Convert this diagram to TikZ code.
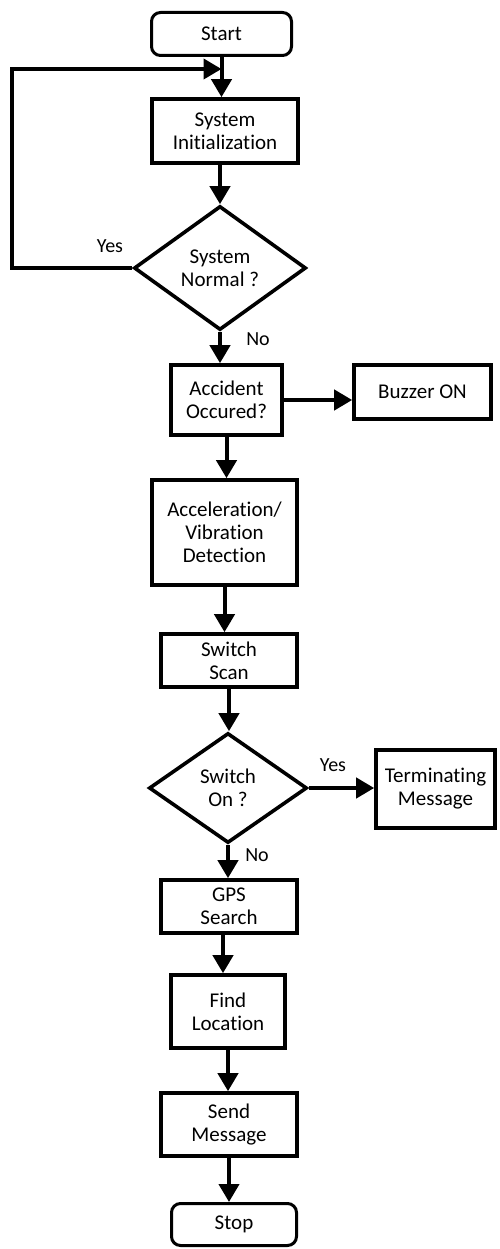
\documentclass[tikz,border=0pt]{standalone}
\usepackage{fontspec}
\setmainfont[Ligatures=NoCommon]{Carlito}
\usetikzlibrary{shapes.geometric,arrows.meta}
\begin{document}
\begin{tikzpicture}[x=1pt,y=-1pt,
  every node/.style={font=\fontsize{21}{23}\selectfont, align=center, inner sep=0pt},
  box/.style={draw, line width=3.6pt, rectangle},
  term/.style={draw, line width=3pt, rounded corners=9pt, rectangle},
  dec/.style={draw, line width=3.6pt, diamond, aspect=1.4},
  arr/.style={line width=4pt, line join=miter, -{Triangle[length=18pt,width=20pt]}},
  lbl/.style={font=\fontsize{20}{22}\selectfont}]
\useasboundingbox (0,0) rectangle (499,1249);

\node[term, minimum width=140, minimum height=43] (start) at (221.5,34) {Start};
\node[box, minimum width=146, minimum height=64] (init) at (225,131) {System\\Initialization};
\node[dec, minimum width=172, minimum height=124] (d1) at (220,268) {System\\Normal ?};
\node[box, minimum width=111, minimum height=70] (acc) at (226.5,400) {Accident\\Occured?};
\node[box, minimum width=137, minimum height=54] (buz) at (422.5,392) {Buzzer ON};
\node[box, minimum width=145, minimum height=105] (accel) at (224.5,532.5) {Acceleration/\\Vibration\\Detection};
\node[box, minimum width=136, minimum height=53] (scan) at (229,660.5) {Switch\\Scan};
\node[dec, minimum width=158, minimum height=110] (d2) at (228,788) {Switch\\On ?};
\node[box, minimum width=119, minimum height=78] (tm) at (435.5,789) {Terminating\\Message};
\node[box, minimum width=136, minimum height=53] (gps) at (229,906.5) {GPS\\Search};
\node[box, minimum width=114, minimum height=73] (find) at (228,1011.5) {Find\\Location};
\node[box, minimum width=136, minimum height=63] (send) at (229,1124.5) {Send\\Message};
\node[term, minimum width=125, minimum height=42] (stop) at (234,1224.5) {Stop};

\coordinate (lc) at (12,69);

\draw[arr] (start.south) -- (start.south |- init.north);
\draw[arr] (d1.west) -| (lc) -- (start.south |- lc);
\draw[arr] (d1.north |- init.south) -- (d1.north);
\draw[arr] (d1.south) -- (d1.south |- acc.north);
\draw[arr] (acc.east) -- (acc.east -| buz.west);
\draw[arr] (acc.south) -- (acc.south |- accel.north);
\draw[arr] (accel.south) -- (accel.south |- scan.north);
\draw[arr] (scan.south) -- (scan.south |- d2.north);
\draw[arr] (d2.east) -- (d2.east -| tm.west);
\draw[arr] (d2.south) -- (d2.south |- gps.north);
\draw[arr] ([xshift=-6pt]gps.south) -- ([xshift=-6pt]gps.south |- find.north);
\draw[arr] (find.south) -- (find.south |- send.north);
\draw[arr] (send.south) -- (send.south |- stop.north);

\node[lbl] (y1) at (110,246) {Yes};
\node[lbl] (n1) at (258,339) {No};
\node[lbl] (y2) at (333,765) {Yes};
\node[lbl] (n2) at (257,855) {No};
\end{tikzpicture}
\end{document}
